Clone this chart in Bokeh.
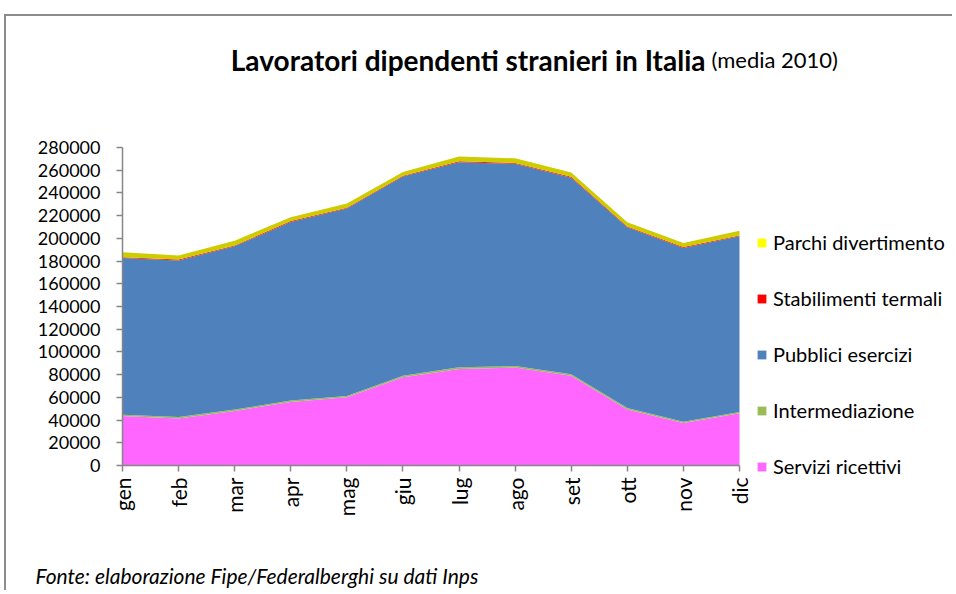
import numpy as np
from bokeh.plotting import figure
from bokeh.models import (Range1d, FixedTicker, BasicTickFormatter,
                          Label, Legend, LegendItem, ColumnDataSource)
from bokeh.embed import file_html
from bokeh.resources import INLINE

# ---- data ----
months = ["gen", "feb", "mar", "apr", "mag", "giu", "lug", "ago", "set", "ott", "nov", "dic"]
servizi_ricettivi = [43500, 41400, 48000, 56000, 60000, 77700, 85000, 86200, 79100, 49400, 37400, 45900]
intermediazione = [1200, 1200, 1200, 1300, 1300, 1300, 1400, 1400, 1300, 1200, 1200, 1200]
pubblici_esercizi = [137900, 138000, 143800, 157100, 164900, 175400, 180600, 178000, 173000, 159100, 152900, 154700]
stabilimenti_termali = [800, 800, 800, 800, 800, 800, 800, 800, 800, 800, 800, 800]
parchi_divertimento = [4300, 3400, 4200, 3300, 3600, 3300, 4200, 4100, 3700, 3600, 3600, 4200]

series_names = ["Servizi ricettivi", "Intermediazione", "Pubblici esercizi",
                "Stabilimenti termali", "Parchi divertimento"]
area_colors = ["#FF66FF", "#9BBB59", "#4F81BD", "#FF2000", "#CCCC00"]
legend_colors = ["#FF66FF", "#9BBB59", "#4F81BD", "#FF0000", "#FFFF00"]
y_ticks = list(range(0, 280001, 20000))
Y_MAX = 280000

FONT = "Lato"

x_idx = list(range(len(months)))
source = ColumnDataSource(data=dict(
    x=x_idx,
    s0=servizi_ricettivi, s1=intermediazione, s2=pubblici_esercizi,
    s3=stabilimenti_termali, s4=parchi_divertimento,
))

# geometry (pixels, canvas coordinates)
W, H = 948, 576
X0, Y0 = 116, 449                       # canvas position of (gen, 0)
PLOT_W, PLOT_H = 617, 318               # pixel size of the data area gen..dic, 0..280000
xpp = (len(months) - 1) / PLOT_W        # data units per pixel
ypp = Y_MAX / PLOT_H

p = figure(width=W, height=H, output_backend="svg", toolbar_location=None,
           x_range=Range1d(-X0 * xpp, (W - X0) * xpp),
           y_range=Range1d(-(H - Y0) * ypp, Y0 * ypp),
           min_border_left=0, min_border_right=0, min_border_top=0, min_border_bottom=0)
p.outline_line_color = None
p.background_fill_color = "white"
p.border_fill_color = "white"
p.xgrid.visible = False
p.ygrid.visible = False

renderers = p.varea_stack(stackers=["s0", "s1", "s2", "s3", "s4"], x="x",
                          color=area_colors, source=source)

# axes, drawn at the data origin and limited to the data area
p.yaxis.ticker = FixedTicker(ticks=y_ticks)
p.yaxis.formatter = BasicTickFormatter(use_scientific=False)
p.yaxis.bounds = (0, Y_MAX)
p.yaxis.fixed_location = 0
p.xaxis.ticker = FixedTicker(ticks=x_idx)
p.xaxis.bounds = (0, len(months) - 1)
p.xaxis.fixed_location = 0
p.xaxis.major_label_overrides = {i: m for i, m in enumerate(months)}
p.xaxis.major_label_orientation = np.pi / 2
for ax in (p.xaxis, p.yaxis):
    ax.axis_line_color = "#868686"
    ax.axis_line_width = 1.5
    ax.major_tick_line_color = "#868686"
    ax.major_tick_line_width = 1.5
    ax.major_tick_out = 6
    ax.major_tick_in = 0
    ax.minor_tick_line_color = None
    ax.major_label_text_font = FONT
    ax.major_label_text_color = "black"
p.yaxis.major_label_text_font_size = "18px"
p.yaxis.major_label_standoff = 16
p.xaxis.major_label_text_font_size = "21px"
p.xaxis.major_label_standoff = 6

# legend swatches: zero-height areas carrying the legend colours
swatches = []
for c in legend_colors:
    r = p.varea(x="x", y1=0, y2=0, source=source, fill_color=c)
    swatches.append(r)
items = [LegendItem(label=series_names[i], renderers=[swatches[i]]) for i in reversed(range(5))]
legend = Legend(items=items, location=(750, 114), padding=0, margin=0, spacing=32,
                glyph_width=11, glyph_height=11, label_standoff=6,
                label_text_font=FONT, label_text_font_size="20px", label_text_color="black",
                border_line_color=None, background_fill_alpha=0)
p.add_layout(legend, "center")

# title
p.add_layout(Label(x=583 * xpp, y=406 * ypp,
                   text="Lavoratori dipendenti stranieri in Italia", text_align="right",
                   text_baseline="alphabetic", text_font=FONT, text_font_style="bold",
                   text_font_size="28px", text_color="black"))
p.add_layout(Label(x=589 * xpp, y=406 * ypp,
                   text="(media 2010)", text_align="left",
                   text_baseline="alphabetic", text_font=FONT,
                   text_font_size="22px", text_color="black"))
# source note
p.add_layout(Label(x=-87 * xpp, y=-110 * ypp,
                   text="Fonte: elaborazione Fipe/Federalberghi su dati Inps",
                   text_align="left", text_baseline="alphabetic", text_font=FONT,
                   text_font_style="italic", text_font_size="21px", text_color="black"))

p.styles = {"margin-left": "4px", "margin-top": "14px",
            "border-left": "2px solid #8c8c8c", "border-top": "2px solid #8c8c8c"}

open("out.html", "w").write(file_html(p, INLINE))
